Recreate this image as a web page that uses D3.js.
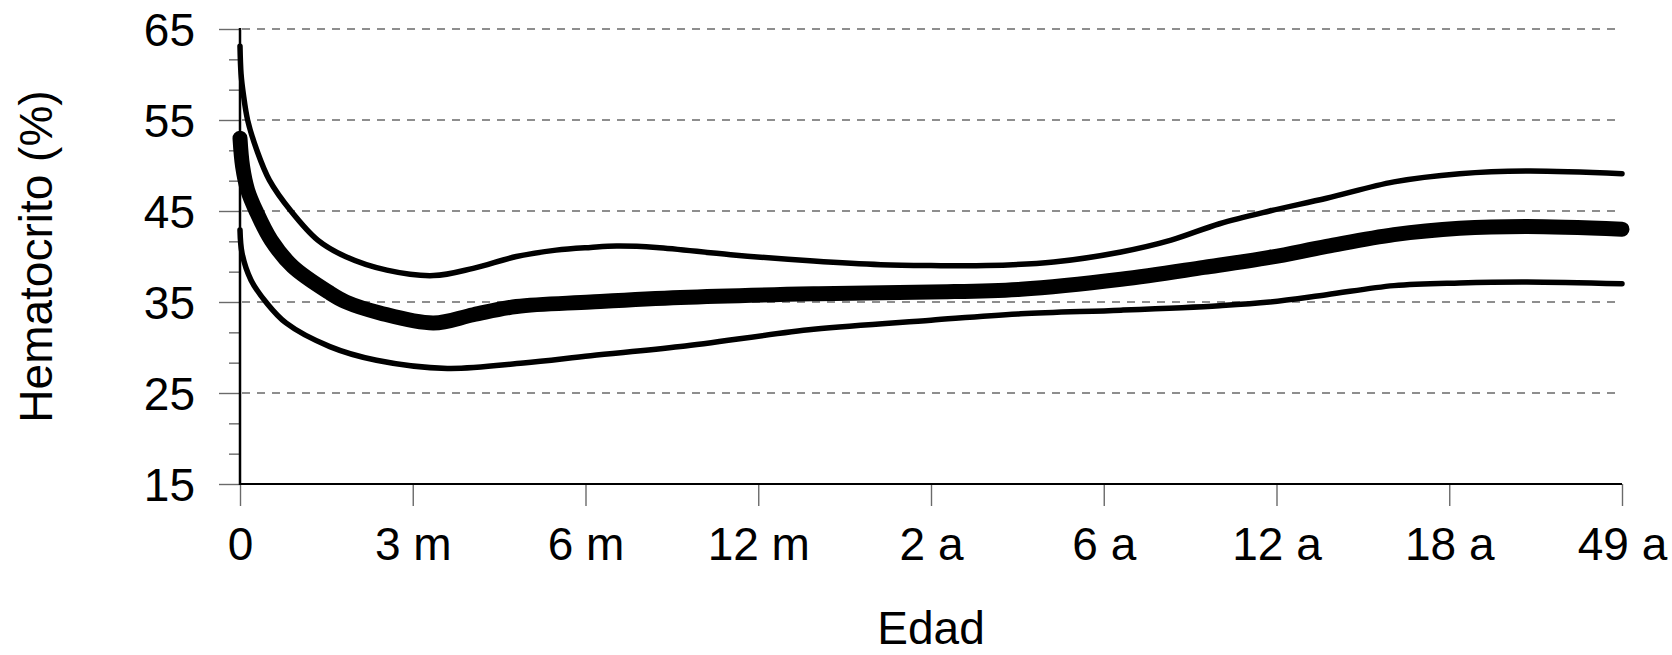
<!DOCTYPE html>
<html>
<head>
<meta charset="utf-8">
<script src="https://cdn.jsdelivr.net/npm/d3@7"></script>
<style>
  html, body { margin: 0; padding: 0; background: #fff; }
  svg { display: block; }
  text { font-family: "Liberation Sans", Arial, sans-serif; fill: #000; }
</style>
</head>
<body>
<svg id="chart" width="1672" height="655"></svg>
<script>
// ---- Data ----
const xLabels = ["0", "3 m", "6 m", "12 m", "2 a", "6 a", "12 a", "18 a", "49 a"];
const yTicks = [15, 25, 35, 45, 55, 65];

// Upper limit curve (position on age axis, hematocrit %)
const upperPos = [0, 0.006, 0.019, 0.044, 0.097, 0.17, 0.295, 0.45, 0.61, 0.85, 1.12, 1.35, 1.6, 1.83, 2.03, 2.18, 2.41, 2.84, 3.32, 3.71, 4.0, 4.32, 4.71, 5.1, 5.39, 5.67, 5.96, 6.29, 6.68, 7.06, 7.45, 8.0];
const upperVal = [63.1, 60.1, 57.9, 55.0, 51.7, 48.4, 45.0, 41.8, 40.0, 38.5, 37.9, 38.7, 40.0, 40.7, 41.0, 41.15, 41.0, 40.2, 39.5, 39.1, 39.0, 39.0, 39.4, 40.5, 41.8, 43.6, 45.0, 46.4, 48.2, 49.1, 49.4, 49.1];

// Mean curve
const meanPos = [0, 0.015, 0.044, 0.093, 0.18, 0.305, 0.52, 0.614, 0.81, 1.12, 1.35, 1.6, 2.03, 2.55, 3.32, 4.0, 4.52, 5.1, 5.58, 5.96, 6.29, 6.68, 7.06, 7.45, 8.0];
const meanVal = [53.0, 49.9, 47.3, 45.0, 41.8, 38.9, 36.0, 35.0, 33.8, 32.7, 33.6, 34.5, 35.0, 35.5, 35.9, 36.1, 36.4, 37.5, 38.8, 39.9, 41.1, 42.4, 43.1, 43.3, 43.0];

// Lower limit curve
const lowerPos = [0, 0.012, 0.064, 0.15, 0.266, 0.52, 0.79, 1.2, 1.64, 2.03, 2.55, 3.32, 4.0, 4.52, 5.1, 5.67, 5.96, 6.29, 6.68, 7.06, 7.45, 8.0];
const lowerVal = [42.9, 40.35, 37.4, 35.0, 32.7, 30.1, 28.6, 27.7, 28.3, 29.1, 30.1, 32.0, 33.0, 33.7, 34.1, 34.6, 35.0, 35.8, 36.8, 37.1, 37.2, 37.0];

// ---- Layout ----
const svg = d3.select("#chart");
const mLeft = 240, mRight = 1622, mTop = 29, mBottom = 484;

const x = d3.scaleLinear().domain([0, xLabels.length - 1]).range([mLeft, mRight]);
const y = d3.scaleLinear().domain([15, 65]).range([mBottom, mTop]);

const gridColor = "#6a6a6a";

// Dashed gridlines
svg.append("g").selectAll("line")
  .data(yTicks.filter(d => d !== 15))
  .join("line")
  .attr("x1", mLeft + 2).attr("x2", mRight)
  .attr("y1", d => y(d)).attr("y2", d => y(d))
  .attr("stroke", gridColor).attr("stroke-width", 1.4)
  .attr("stroke-dasharray", "8,7");

// Y axis (major ticks)
const yAxis = d3.axisLeft(y).tickValues(yTicks).tickSize(21).tickPadding(24).tickFormat(d3.format("d"));
const gy = svg.append("g").attr("transform", `translate(${mLeft},0)`).call(yAxis);
gy.select(".domain").remove();
gy.selectAll(".tick line").attr("stroke", gridColor).attr("stroke-width", 1.4);
gy.selectAll(".tick text").style("font-size", "46px").attr("dy", "0.35em");

// Y axis minor ticks
const minorTicks = d3.range(1, 15).filter(k => k % 3 !== 0).map(k => 15 + k * 10 / 3);
const yMinor = d3.axisLeft(y).tickValues(minorTicks).tickSize(11).tickFormat("");
const gym = svg.append("g").attr("transform", `translate(${mLeft},0)`).call(yMinor);
gym.select(".domain").remove();
gym.selectAll(".tick line").attr("stroke", gridColor).attr("stroke-width", 1.4);

// X axis
const xAxis = d3.axisBottom(x).tickValues(d3.range(xLabels.length)).tickSize(22).tickPadding(0)
  .tickFormat(i => xLabels[i]);
const gx = svg.append("g").attr("transform", `translate(0,${mBottom})`).call(xAxis);
gx.select(".domain").remove();
gx.selectAll(".tick line").attr("stroke", gridColor).attr("stroke-width", 1.4);
gx.selectAll(".tick text").style("font-size", "46px").attr("y", 76).attr("dy", 0);

// Axis lines
svg.append("line").attr("x1", mLeft).attr("x2", mLeft).attr("y1", mTop - 1).attr("y2", mBottom + 1)
  .attr("stroke", "#000").attr("stroke-width", 2.5);
svg.append("line").attr("x1", mLeft).attr("x2", mRight).attr("y1", mBottom).attr("y2", mBottom)
  .attr("stroke", "#000").attr("stroke-width", 2.2);

// Curves
const line = d3.line().x(d => x(d[0])).y(d => y(d[1])).curve(d3.curveCatmullRom.alpha(0.5));
const series = [
  { pos: upperPos, val: upperVal, w: 5.5 },
  { pos: lowerPos, val: lowerVal, w: 5.5 },
  { pos: meanPos, val: meanVal, w: 15 }
];
svg.append("g").selectAll("path")
  .data(series)
  .join("path")
  .attr("d", s => line(s.pos.map((p, i) => [p, s.val[i]])))
  .attr("fill", "none").attr("stroke", "#000")
  .attr("stroke-width", s => s.w)
  .attr("stroke-linecap", "round").attr("stroke-linejoin", "round");

// Axis titles
svg.append("text").attr("x", (mLeft + mRight) / 2).attr("y", 644)
  .attr("text-anchor", "middle").style("font-size", "46px").text("Edad");
svg.append("text").attr("transform", `translate(52,${(mTop + mBottom) / 2}) rotate(-90)`)
  .attr("text-anchor", "middle").style("font-size", "46px").text("Hematocrito (%)");
</script>
</body>
</html>
